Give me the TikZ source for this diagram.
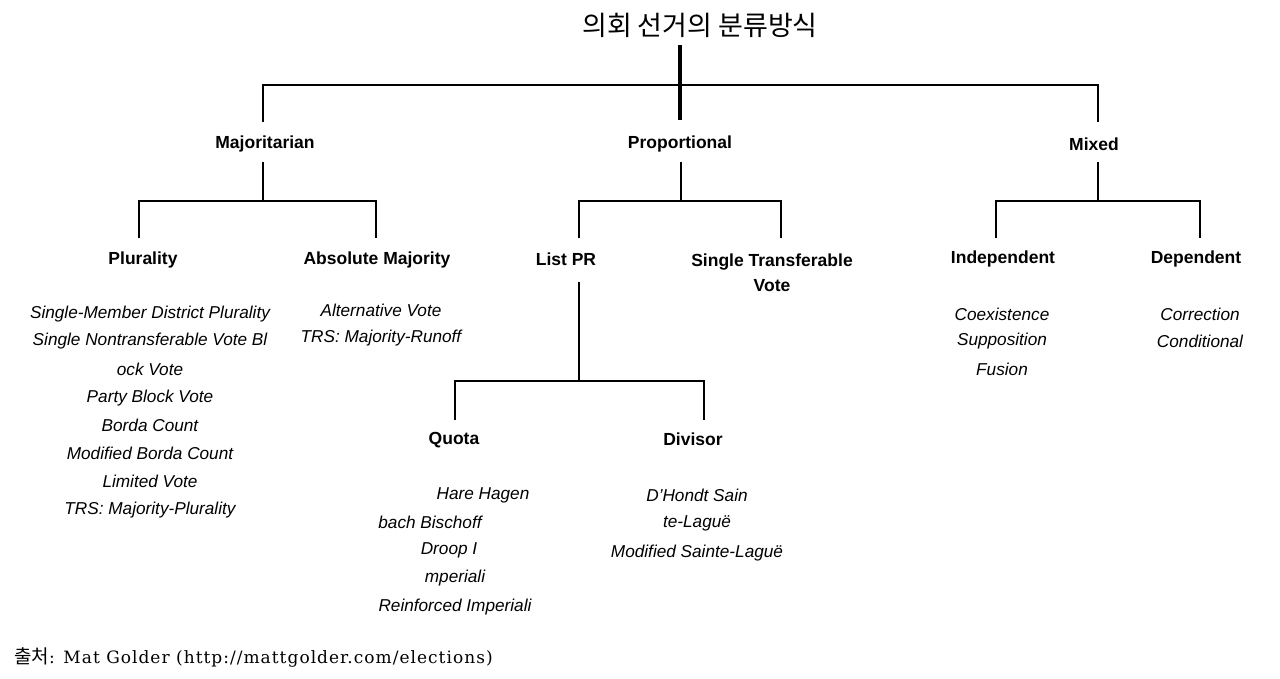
\documentclass[tikz,border=0pt]{standalone}
\usepackage{fontspec}
\setmainfont{Liberation Sans}
\newfontfamily\kr{Noto Sans CJK KR}
\newfontfamily\serifft[LetterSpace=6]{DejaVu Serif}
\begin{document}
\begin{tikzpicture}[x=1pt,y=-1pt,
  cat/.style={font=\fontsize{17.5}{25}\selectfont\bfseries, inner sep=0pt, align=center, yshift=-2pt},
  item/.style={font=\fontsize{17.2}{20}\selectfont\itshape, inner sep=0pt, anchor=center, yshift=-2pt},
  conn/.style={line width=1.6pt},
  stem/.style={line width=3.2pt}]
\useasboundingbox (0,0) rectangle (1280,678);
% title
\node[font=\kr\fontsize{27}{30}\selectfont, inner sep=0pt] (title) at (700,25) {의회 선거의 분류방식};
% top level
\coordinate (t0) at (680,45);
\coordinate (t1) at (680,120);
\coordinate (tl) at (263,122);
\coordinate (tr) at (1098,122);
\draw[stem] (t0) -- (t1);
\draw[conn] (tl) |- (680,85) -| (tr);
\node[cat] (maj) at (265,142) {Majoritarian};
\node[cat] (prop) at (680,142) {Proportional};
\node[cat] (mix) at (1094,142) {Mixed};
% majoritarian
\coordinate (m0) at (263,162);
\coordinate (m1) at (139,238);
\coordinate (m2) at (376,238);
\draw[conn] (m0) -- (263,201);
\draw[conn] (m1) |- (263,201) -| (m2);
\node[cat] (plur) at (143,258) {Plurality};
\node[cat] (abs) at (377,258) {Absolute Majority};
% proportional
\coordinate (p0) at (681,162);
\coordinate (p1) at (579,238);
\coordinate (p2) at (781,238);
\draw[conn] (p0) -- (681,201);
\draw[conn] (p1) |- (681,201) -| (p2);
\node[cat] (list) at (566,257) {List PR};
\node[cat] (stv) at (772,271) {Single Transferable\\Vote};
% mixed
\coordinate (x0) at (1098,162);
\coordinate (x1) at (996,238);
\coordinate (x2) at (1200,238);
\draw[conn] (x0) -- (1098,201);
\draw[conn] (x1) |- (1098,201) -| (x2);
\node[cat] (ind) at (1003,257) {Independent};
\node[cat] (dep) at (1196,257) {Dependent};
% list PR
\coordinate (l0) at (579,282);
\coordinate (l1) at (455,420);
\coordinate (l2) at (704,420);
\draw[conn] (l0) -- (579,381);
\draw[conn] (l1) |- (579,381) -| (l2);
\node[cat] (quota) at (454,438) {Quota};
\node[cat] (div) at (693,437) {Divisor};
% plurality items
\node[item] (a1) at (150,312) {Single-Member District Plurality};
\node[item] (a2) at (150,339) {Single Nontransferable Vote Bl};
\node[item] (a3) at (150,367) {ock Vote};
\node[item] (a4) at (150,396) {Party Block Vote};
\node[item] (a5) at (150,423) {Borda Count};
\node[item] (a6) at (150,451) {Modified Borda Count};
\node[item] (a7) at (150,479) {Limited Vote};
\node[item] (a8) at (150,508) {TRS: Majority-Plurality};
% absolute majority items
\node[item] (b1) at (381,308) {Alternative Vote};
\node[item] (b2) at (381,336) {TRS: Majority-Runoff};
% independent / dependent
\node[item] (c1) at (1002,312) {Coexistence};
\node[item] (c2) at (1002,339) {Supposition};
\node[item] (c3) at (1002,367) {Fusion};
\node[item] (d1) at (1200,312) {Correction};
\node[item] (d2) at (1200,339) {Conditional};
% quota items
\node[item] (q1) at (483,493) {Hare Hagen};
\node[item] (q2) at (430,520) {bach Bischoff};
\node[item] (q3) at (449,548) {Droop I};
\node[item] (q4) at (455,576) {mperiali};
\node[item] (q5) at (455,605) {Reinforced Imperiali};
% divisor items
\node[item] (v1) at (697,493) {D’Hondt Sain};
\node[item] (v2) at (697,521) {te-Laguë};
\node[item] (v3) at (697,551) {Modified Sainte-Laguë};
% source
\node[anchor=west, inner sep=0pt, font=\fontsize{17}{19}\selectfont] (src) at (14,657) {{\kr\fontsize{19}{21}\selectfont 출처}\serifft: Mat Golder (http://mattgolder.com/elections)};
\end{tikzpicture}
\end{document}
